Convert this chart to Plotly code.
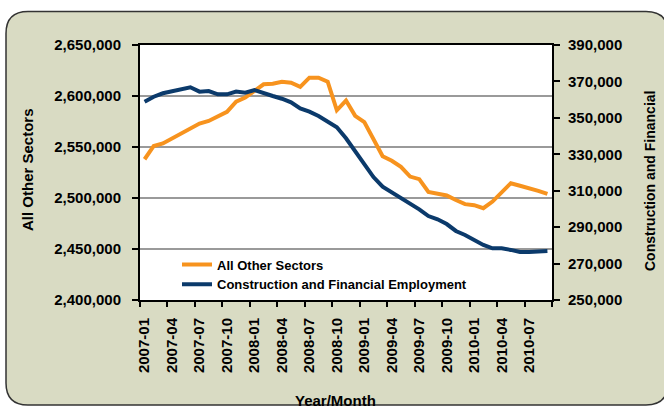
import plotly.graph_objects as go

months = ["2007-01","2007-02","2007-03","2007-04","2007-05","2007-06","2007-07","2007-08","2007-09",
          "2007-10","2007-11","2007-12","2008-01","2008-02","2008-03","2008-04","2008-05","2008-06",
          "2008-07","2008-08","2008-09","2008-10","2008-11","2008-12","2009-01","2009-02","2009-03",
          "2009-04","2009-05","2009-06","2009-07","2009-08","2009-09","2009-10","2009-11","2009-12",
          "2010-01","2010-02","2010-03","2010-04","2010-05","2010-06","2010-07","2010-08","2010-09"]

all_other = [2538000, 2551000, 2553500, 2558500, 2563500, 2569000, 2573000, 2575500, 2579500,
             2584500, 2594500, 2598500, 2605000, 2611500, 2612000, 2614000, 2613000, 2609000,
             2618000, 2618000, 2614000, 2586000, 2595500, 2580500, 2574500, 2558500, 2541000,
             2536500, 2530500, 2521000, 2518500, 2506000, 2504000, 2502500, 2498000, 2494000,
             2493000, 2490000, 2496500, 2505000, 2514500, 2512000, 2510000, 2507000, 2504000]

constr_fin = [358900, 361600, 363500, 364700, 365800, 366800, 364400, 364700, 362900,
              362900, 364400, 363800, 365300, 363900, 362000, 360500, 358500, 355200,
              353400, 351000, 347900, 344800, 338800, 331900, 324800, 317500, 312200,
              309100, 306200, 303000, 299800, 296100, 294300, 291700, 287900, 285700,
              282900, 280200, 278400, 278400, 277500, 276400, 276400, 276900, 276900]

left_ticks = [2400000, 2450000, 2500000, 2550000, 2600000, 2650000]
right_ticks = [250000, 270000, 290000, 310000, 330000, 350000, 370000, 390000]

ORANGE = "#F7931E"
NAVY = "#0B3A6B"
BG = "#D9DBC3"
FONT = "Liberation Sans, Arial, sans-serif"

xidx = list(range(len(months)))
label_idx = xidx[::3]

fig = go.Figure()
fig.add_trace(go.Scatter(x=xidx, y=all_other, name="All Other Sectors", mode="lines",
                         line=dict(color=ORANGE, width=4), yaxis="y"))
fig.add_trace(go.Scatter(x=xidx, y=constr_fin, name="Construction and Financial Employment",
                         mode="lines", line=dict(color=NAVY, width=4), yaxis="y2"))

L, R, T, B = 140, 112, 45, 108
W, H = 664, 408
pw, ph = W - L - R, H - T - B

def px(x):
    return (x - L) / pw

def py(y):
    return (H - B - y) / ph

# rounded background panel
x0, x1, y0, y1 = px(6), px(668), py(405), py(11.5)
rx, ry = 22 / pw, 22 / ph
path = (f"M {x0+rx},{y1} L {x1-rx},{y1} Q {x1},{y1} {x1},{y1-ry} "
        f"L {x1},{y0+ry} Q {x1},{y0} {x1-rx},{y0} L {x0+rx},{y0} Q {x0},{y0} {x0},{y0+ry} "
        f"L {x0},{y1-ry} Q {x0},{y1} {x0+rx},{y1} Z")

tf = dict(family=FONT, size=15, weight="bold", color="black")

fig.update_layout(
    width=W, height=H,
    margin=dict(l=L, r=R, t=T, b=B, autoexpand=False),
    paper_bgcolor="white",
    plot_bgcolor="white",
    showlegend=True,
    font=dict(family=FONT, size=15, color="black"),
    shapes=[
        dict(type="path", path=path, xref="paper", yref="paper", layer="below",
             fillcolor=BG, line=dict(color="#333333", width=1.5)),
        dict(type="rect", x0=0, x1=1, y0=0, y1=1, xref="paper", yref="paper", layer="below",
             fillcolor="white", line=dict(width=0)),
    ],
    xaxis=dict(
        range=[-0.5, len(months) - 0.5], automargin=False,
        tickmode="array", tickvals=label_idx, ticktext=[months[i] for i in label_idx],
        tickangle=-90, ticks="", showgrid=False, zeroline=False,
        showline=True, linecolor="black", linewidth=2, mirror=True,
        tickfont=tf,
        ticklabelstandoff=10,
        minor=dict(tickmode="array", tickvals=[i - 0.5 for i in range(0, len(months) + 1, 3)],
                   ticks="outside", ticklen=5, tickwidth=1.5, tickcolor="black", showgrid=False),
    ),
    yaxis=dict(
        range=[2400000, 2650000], tickmode="array", tickvals=left_ticks, automargin=False,
        tickformat=",d", ticks="outside", ticklen=6, tickwidth=1.5, tickcolor="black",
        showline=True, linecolor="black", linewidth=2,
        showgrid=True, gridcolor="#9A9A9A", gridwidth=1.5, zeroline=False,
        tickfont=tf,
        ticklabelstandoff=8,
    ),
    yaxis2=dict(
        range=[250000, 390000], tickmode="array", tickvals=right_ticks, automargin=False,
        tickformat=",d", ticks="outside", ticklen=6, tickwidth=1.5, tickcolor="black",
        overlaying="y", side="right",
        showline=True, linecolor="black", linewidth=2, showgrid=False, zeroline=False,
        tickfont=tf,
        ticklabelstandoff=5,
    ),
    legend=dict(
        x=px(177), y=py(299.5), xanchor="left", yanchor="bottom",
        bgcolor="rgba(0,0,0,0)", borderwidth=0,
        font=dict(family=FONT, size=13, weight="bold"),
        tracegroupgap=0,
    ),
    annotations=[
        dict(text="<b>All Other Sectors</b>", x=px(27), y=py(170), xref="paper", yref="paper",
             xanchor="center", yanchor="middle",
             textangle=-90, showarrow=False, font=dict(family=FONT, size=15)),
        dict(text="<b>Construction and Financial</b>", x=px(650), y=py(181), xref="paper",
             yref="paper", xanchor="center", yanchor="middle",
             textangle=-90, showarrow=False, font=dict(family=FONT, size=14)),
        dict(text="<b>Year/Month</b>", x=px(335), y=py(390), xref="paper", yref="paper",
             xanchor="center", yanchor="top", showarrow=False, font=dict(family=FONT, size=15)),
    ],
)

fig.write_html("out.html", config={"displayModeBar": False},
               post_script="document.body.style.margin='0';document.body.style.overflow='hidden';")
